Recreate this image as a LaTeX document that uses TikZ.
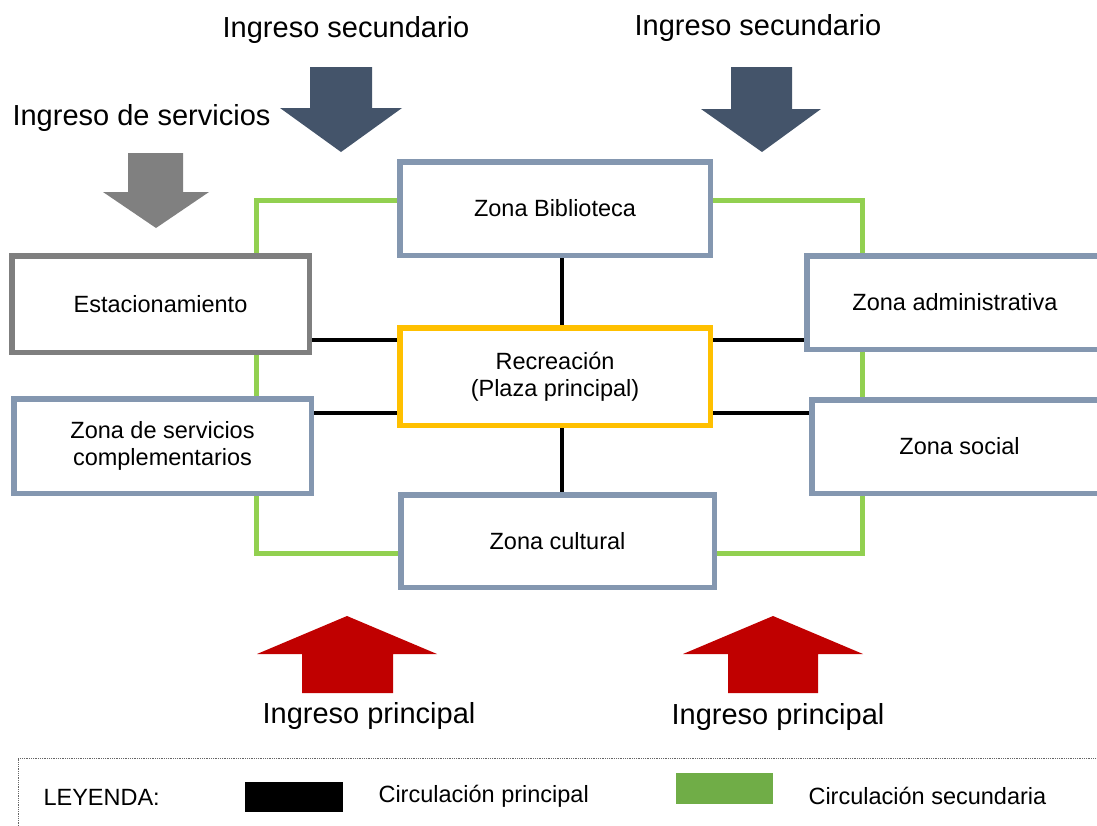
\documentclass[tikz,border=0pt]{standalone}
\usepackage{fontspec}
\setmainfont{Liberation Sans}
\usetikzlibrary{positioning,backgrounds}
\definecolor{zonaedge}{HTML}{8497B0}
\definecolor{plazaedge}{HTML}{FFC000}
\definecolor{parkedge}{HTML}{7F7F7F}
\definecolor{seclink}{HTML}{92D050}
\definecolor{seckey}{HTML}{70AD47}
\definecolor{ingnavy}{HTML}{44546A}
\definecolor{ingred}{HTML}{C00000}
\definecolor{inggray}{HTML}{808080}

\begin{document}
\begin{tikzpicture}[
  x=1pt,y=-1pt,
  zona/.style={draw=zonaedge,fill=white,line width=5.5pt,align=center,
               inner sep=0pt,font=\fontsize{23.5}{27}\selectfont},
  plaza/.style={zona,draw=plazaedge},
  park/.style={zona,draw=parkedge},
  prin/.style={black,line width=3.5pt},
  sec/.style={seclink,line width=5pt},
  ingreso/.style={font=\fontsize{29}{33}\selectfont},
  keytext/.style={anchor=west,font=\fontsize{23.5}{27}\selectfont},
  legframe/.style={gray!80!black,densely dotted,line width=0.8pt}
]
\useasboundingbox (0,0) rectangle (1097,825);

% zonas
\node[zona,minimum width=310.5pt,minimum height=93.5pt] (bib) at (555,208.5) {Zona Biblioteca};
\node[plaza,minimum width=310.5pt,minimum height=97.5pt] (rec) at (555,376.5) {Recreación\\(Plaza principal)};
\node[park,minimum width=297.5pt,minimum height=96.5pt] (est) at (160.5,304) {Estacionamiento};
\node[zona,minimum width=297.5pt,minimum height=94.5pt] (serv) at (162.5,446) {Zona de servicios\\complementarios};
\node[zona,minimum width=296.5pt,minimum height=93.5pt] (adm) at (955,302.5) {Zona administrativa};
\node[zona,minimum width=295.5pt,minimum height=93.5pt] (soc) at (959.5,446.5) {Zona social};
\node[zona,minimum width=313.5pt,minimum height=92.5pt] (cult) at (557.5,541) {Zona cultural};

% levels of the circulation lines
\coordinate (upper) at (0,340);
\coordinate (lower) at (0,413);
\coordinate (axis) at (562,0);
\coordinate (gl) at (256.5,200.5);
\coordinate (gr) at (862.5,553);

\begin{scope}[on background layer]
  \draw[prin] (bib.south -| axis) -- (rec.north -| axis);
  \draw[prin] (rec.south -| axis) -- (cult.north -| axis);
  \draw[prin] (est.east |- upper) -- (rec.west |- upper);
  \draw[prin] (serv.east |- lower) -- (rec.west |- lower);
  \draw[prin] (rec.east |- upper) -- (adm.west |- upper);
  \draw[prin] (rec.east |- lower) -- (soc.west |- lower);
  \draw[sec] (bib.west |- gl) -| (est.north -| gl);
  \draw[sec] (est.south -| gl) -- (serv.north -| gl);
  \draw[sec] (serv.south -| gl) |- (cult.west |- gr);
  \draw[sec] (bib.east |- gl) -| (adm.north -| gr);
  \draw[sec] (adm.south -| gr) -- (soc.north -| gr);
  \draw[sec] (soc.south -| gr) |- (cult.east |- gr);
\end{scope}

% ingresos
\fill[ingnavy] (310,67) -- (372,67) -- (372,108) -- (402,108) -- (341,152) -- (280,108) -- (310,108) -- cycle;
\fill[ingnavy] (731,67) -- (792,67) -- (792,109) -- (821,109) -- (762,152) -- (701,109) -- (731,109) -- cycle;
\fill[inggray] (128,153) -- (183,153) -- (183,192) -- (209,192) -- (156,228) -- (103,192) -- (128,192) -- cycle;
\fill[ingred] (302,693) -- (393,693) -- (393,654) -- (437,654) -- (347,616) -- (257,654) -- (302,654) -- cycle;
\fill[ingred] (728,693) -- (818,693) -- (818,654) -- (863,654) -- (773,616) -- (683,654) -- (728,654) -- cycle;

\node[ingreso] (seca) at (346,30) {Ingreso secundario};
\node[ingreso] (secb) at (758,28) {Ingreso secundario};
\node[ingreso] (serva) at (141.5,118) {Ingreso de servicios};
\node[ingreso] (prina) at (369,716) {Ingreso principal};
\node[ingreso] (prinb) at (778,717) {Ingreso principal};

% leyenda
\coordinate (legsw) at (18,826);
\coordinate (legne) at (1098,758);
\draw[legframe] (legsw) |- (legne);
\node[keytext] (ley) at (40,797) {LEYENDA:};
\node[fill=black,minimum width=98pt,minimum height=30pt,inner sep=0pt] (kprin) at (294,797) {};
\node[keytext] (tprin) at (375,796) {Circulación principal};
\node[fill=seckey,minimum width=97pt,minimum height=31pt,inner sep=0pt] (ksec) at (724.5,788.5) {};
\node[keytext] (tsec) at (805,796) {Circulación secundaria};
\end{tikzpicture}
\end{document}
